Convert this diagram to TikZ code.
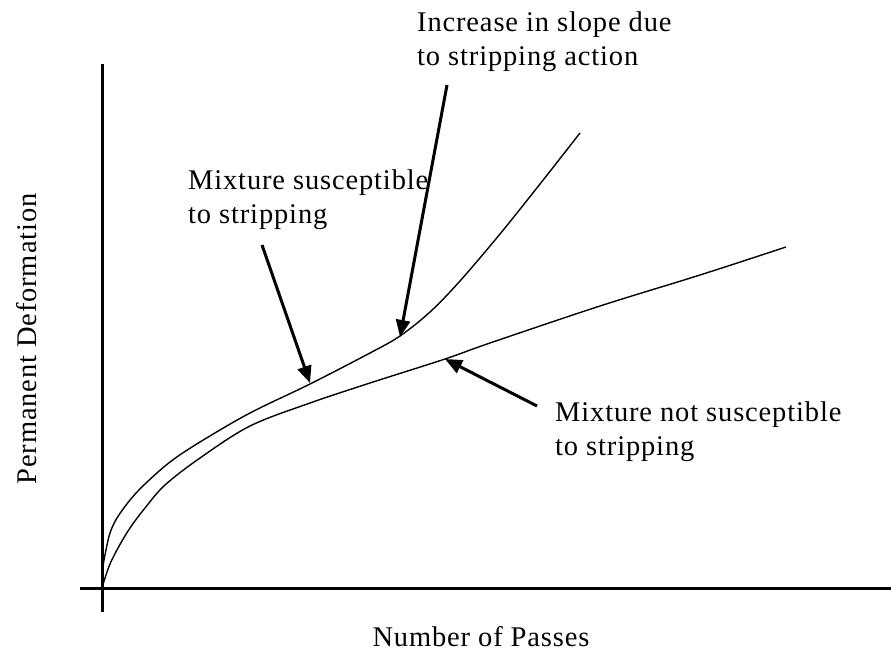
\documentclass[tikz,border=0pt]{standalone}
\usepackage{fontspec}
\setmainfont[LetterSpace=3]{Liberation Serif}
\usetikzlibrary{arrows.meta}
\begin{document}
\begin{tikzpicture}[x=1pt,y=-1pt,
  axis/.style={line width=3pt},
  curve/.style={line width=1.4pt, smooth, tension=0.55},
  pointer/.style={line width=3pt, -{Triangle[length=17pt,width=14pt]}},
  lbl/.style={font=\fontsize{28.5}{34}\selectfont, inner sep=0pt, align=left, anchor=base west}]
\useasboundingbox (0,0) rectangle (891,653);
\fill[white] (0,0) rectangle (891,653);
% axes
\coordinate (ytop) at (102,64);
\coordinate (ybot) at (102,612);
\coordinate (xl) at (80,588);
\coordinate (xr) at (891,588);
\draw[axis] (ytop) -- (ybot);
\draw[axis] (xl) -- (xr);
% curves
\draw[curve] plot coordinates {(102,588) (103,567) (106,550) (110,533) (117,518) (130,500) (145,484) (170,462) (200,442) (250,413) (310,384) (370,353) (400,336) (430,312) (460,281) (500,234) (540,184) (580,133)};
\draw[curve] plot coordinates {(102,588) (105,578) (110,564) (118,548) (130,528) (145,508) (165,485) (200,458) (250,426) (310,403) (370,383) (445,359) (490,343) (600,306) (700,275) (786,247)};
% labels
\node[lbl] (inc) at (417,65) {Increase in slope due\\to stripping action};
\node[lbl] (sus) at (188,223) {Mixture susceptible\\to stripping};
\node[lbl] (not) at (555,455) {Mixture not susceptible\\to stripping};
\node[font=\fontsize{28.5}{34}\selectfont, inner sep=0pt, anchor=base] (xlab) at (481,646) {Number of Passes};
\node[font=\fontsize{28.5}{34}\selectfont, inner sep=0pt, anchor=base, rotate=90] (ylab) at (36,339) {Permanent Deformation};
% arrows
\coordinate (a1s) at (262,245);
\coordinate (a1e) at (310,383);
\coordinate (a2s) at (447,85);
\coordinate (a2e) at (400,337);
\coordinate (a3s) at (537,406);
\coordinate (a3e) at (445,359);
\draw[pointer] (a1s) -- (a1e);
\draw[pointer] (a2s) -- (a2e);
\draw[pointer] (a3s) -- (a3e);
\end{tikzpicture}
\end{document}
